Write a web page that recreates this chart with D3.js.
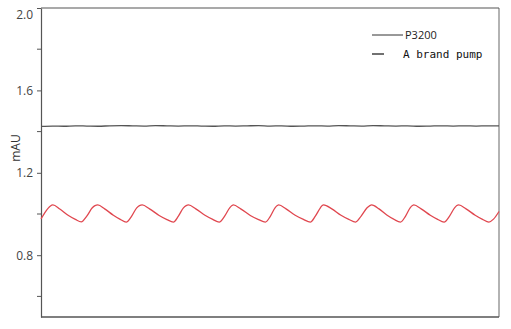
<!DOCTYPE html>
<html>
<head>
<meta charset="utf-8">
<script src="https://cdn.jsdelivr.net/npm/d3@7"></script>
<style>
  body { margin: 0; background: #fff; }
  svg { display: block; }
</style>
</head>
<body>
<div id="chart"></div>
<script>
// Chromatogram baseline comparison (time in min, absorbance in mAU)
const yTicks = [0.8, 1.2, 1.6, 2.0];
const yMinorTicks = [0.6, 1.0, 1.4, 1.8];
const seriesNames = ['P3200', 'A brand pump'];

// P3200 - flat baseline with small noise
const p3200 = [
  [0.0, 1.425], [0.25, 1.427], [0.5, 1.426], [0.75, 1.428], [1.0, 1.427],
  [1.25, 1.426], [1.5, 1.428], [1.75, 1.429], [2.0, 1.428], [2.25, 1.427],
  [2.5, 1.429], [2.75, 1.428], [3.0, 1.427], [3.25, 1.428], [3.5, 1.427],
  [3.75, 1.426], [4.0, 1.428], [4.25, 1.427], [4.5, 1.428], [4.75, 1.429],
  [5.0, 1.427], [5.25, 1.428], [5.5, 1.426], [5.75, 1.427], [6.0, 1.428],
  [6.25, 1.427], [6.5, 1.429], [6.75, 1.428], [7.0, 1.427], [7.25, 1.429],
  [7.5, 1.428], [7.75, 1.427], [8.0, 1.428], [8.25, 1.426], [8.5, 1.427],
  [8.75, 1.428], [9.0, 1.427], [9.25, 1.428], [9.5, 1.427], [9.75, 1.428],
  [10.0, 1.428]
];

// A brand pump - pulsating baseline
const brandPump = [
  [0.0, 0.976], [0.1, 1.012], [0.2, 1.038], [0.26, 1.044], [0.41, 1.024], [0.6, 0.993], [0.75, 0.974], [0.88, 0.962],
  [1.0, 0.99], [1.12, 1.03], [1.18, 1.041], [1.24, 1.044], [1.39, 1.025], [1.58, 0.994], [1.73, 0.974], [1.86, 0.961],
  [1.98, 0.99], [2.09, 1.03], [2.15, 1.041], [2.21, 1.044], [2.37, 1.025], [2.58, 0.993], [2.75, 0.973], [2.89, 0.961],
  [3.0, 0.99], [3.11, 1.03], [3.17, 1.041], [3.22, 1.044], [3.38, 1.025], [3.58, 0.994], [3.75, 0.974], [3.89, 0.961],
  [4.01, 0.99], [4.12, 1.03], [4.17, 1.041], [4.2, 1.044], [4.36, 1.025], [4.57, 0.993], [4.75, 0.973], [4.9, 0.961],
  [5.01, 0.99], [5.11, 1.03], [5.16, 1.041], [5.19, 1.044], [5.35, 1.025], [5.55, 0.994], [5.73, 0.974], [5.88, 0.961],
  [5.99, 0.99], [6.1, 1.03], [6.14, 1.041], [6.17, 1.044], [6.35, 1.025], [6.55, 0.994], [6.72, 0.974], [6.87, 0.961],
  [6.99, 0.99], [7.12, 1.03], [7.18, 1.041], [7.22, 1.044], [7.38, 1.025], [7.55, 0.995], [7.7, 0.975], [7.85, 0.961],
  [7.96, 0.99], [8.06, 1.03], [8.11, 1.041], [8.14, 1.044], [8.3, 1.025], [8.5, 0.994], [8.66, 0.974], [8.8, 0.961],
  [8.92, 0.99], [9.03, 1.03], [9.08, 1.041], [9.12, 1.044], [9.28, 1.025], [9.48, 0.994], [9.64, 0.974], [9.78, 0.961],
  [9.88, 0.975], [10.0, 1.012]
];

const width = 511, height = 329;
const margin = { top: 8, right: 12, bottom: 12, left: 41 };

const svg = d3.select('#chart').append('svg')
  .attr('width', width)
  .attr('height', height);

const x = d3.scaleLinear().domain([0, 10]).range([margin.left, width - margin.right]);
const y = d3.scaleLinear().domain([0.5, 2.0]).range([height - margin.bottom, margin.top]);

// frame
svg.append('line')
  .attr('x1', width - margin.right).attr('x2', width - margin.right)
  .attr('y1', margin.top).attr('y2', height - margin.bottom)
  .attr('stroke', '#9a9a9a').attr('stroke-width', 1.5);
svg.append('line')
  .attr('x1', margin.left).attr('x2', width - margin.right)
  .attr('y1', margin.top).attr('y2', margin.top)
  .attr('stroke', '#555').attr('stroke-width', 1.2);
svg.append('line')
  .attr('x1', margin.left).attr('x2', width - margin.right)
  .attr('y1', height - margin.bottom).attr('y2', height - margin.bottom)
  .attr('stroke', '#555').attr('stroke-width', 1.5);

// y axis
const yAxis = svg.append('g')
  .attr('transform', `translate(${margin.left},0)`)
  .call(d3.axisLeft(y).tickValues(yTicks).tickFormat(d3.format('.1f')).tickSize(4).tickSizeOuter(0));
yAxis.select('.domain').attr('stroke', '#555').attr('stroke-width', 1.2);
yAxis.selectAll('.tick line').attr('stroke', '#555');
yAxis.selectAll('.tick text')
  .attr('font-family', '"Open Sans", sans-serif')
  .attr('font-size', 12)
  .attr('fill', '#444')
  .attr('x', -8)
  .attr('dy', d => d === 2.0 ? '0.85em' : '0.32em');

svg.append('g')
  .attr('transform', `translate(${margin.left},0)`)
  .selectAll('line')
  .data(yMinorTicks)
  .join('line')
  .attr('x1', -4).attr('x2', 0)
  .attr('y1', d => y(d)).attr('y2', d => y(d))
  .attr('stroke', '#555');

svg.append('text')
  .attr('transform', `translate(20,${y(1.32)}) rotate(-90)`)
  .attr('text-anchor', 'middle')
  .attr('font-family', '"Open Sans", sans-serif')
  .attr('font-size', 12)
  .attr('fill', '#333')
  .text('mAU');

// lines
const line = d3.line()
  .x(d => x(d[0]))
  .y(d => y(d[1]))
  .curve(d3.curveMonotoneX);

svg.append('path')
  .datum(p3200)
  .attr('d', line)
  .attr('fill', 'none')
  .attr('stroke', '#555')
  .attr('stroke-width', 1.3);

svg.append('path')
  .datum(brandPump)
  .attr('d', line)
  .attr('fill', 'none')
  .attr('stroke', '#e0474f')
  .attr('stroke-width', 1.3);

// legend
const legend = svg.append('g');
legend.append('line')
  .attr('x1', 372).attr('x2', 403).attr('y1', 35).attr('y2', 35)
  .attr('stroke', '#333').attr('stroke-width', 1);
legend.append('text')
  .attr('x', 405).attr('y', 35).attr('dy', '0.35em')
  .attr('font-family', '"Open Sans", sans-serif')
  .attr('font-size', 11)
  .attr('fill', '#222')
  .text(seriesNames[0]);
legend.append('line')
  .attr('x1', 372).attr('x2', 384).attr('y1', 54).attr('y2', 54)
  .attr('stroke', '#111').attr('stroke-width', 1.2);
legend.append('text')
  .attr('x', 403).attr('y', 54).attr('dy', '0.35em')
  .attr('font-family', '"DejaVu Sans Mono", monospace')
  .attr('font-size', 11)
  .attr('fill', '#111')
  .text(seriesNames[1]);
</script>
</body>
</html>
